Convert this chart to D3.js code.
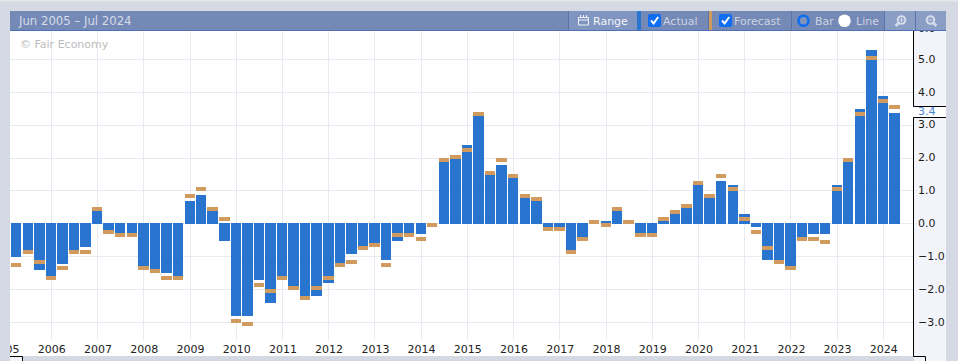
<!DOCTYPE html>
<html>
<head>
<meta charset="utf-8">
<script src="https://cdn.jsdelivr.net/npm/d3@7"></script>
<style>
body { margin: 0; background: #d5d9e3; overflow: hidden; }
svg { display: block; font-family: "DejaVu Sans", sans-serif; }
</style>
</head>
<body>
<script>
//data
var quarters = [
    "2005-04", "2005-07", "2005-10",
    "2006-01", "2006-04", "2006-07", "2006-10",
    "2007-01", "2007-04", "2007-07", "2007-10",
    "2008-01", "2008-04", "2008-07", "2008-10",
    "2009-01", "2009-04", "2009-07", "2009-10",
    "2010-01", "2010-04", "2010-07", "2010-10",
    "2011-01", "2011-04", "2011-07", "2011-10",
    "2012-01", "2012-04", "2012-07", "2012-10",
    "2013-01", "2013-04", "2013-07", "2013-10",
    "2014-01", "2014-04", "2014-07", "2014-10",
    "2015-01", "2015-04", "2015-07", "2015-10",
    "2016-01", "2016-04", "2016-07", "2016-10",
    "2017-01", "2017-04", "2017-07", "2017-10",
    "2018-01", "2018-04", "2018-07", "2018-10",
    "2019-01", "2019-04", "2019-07", "2019-10",
    "2020-01", "2020-04", "2020-07", "2020-10",
    "2021-01", "2021-04", "2021-07", "2021-10",
    "2022-01", "2022-04", "2022-07", "2022-10",
    "2023-01", "2023-04", "2023-07", "2023-10",
    "2024-01", "2024-04"
];
var actual = [
    -1.0, -0.8, -1.4,
    -1.6, -1.2, -0.8, -0.7,
    0.4, -0.2, -0.3, -0.4,
    -1.3, -1.5, -1.5, -1.6,
    0.7, 0.9, 0.4, -0.5,
    -2.8, -2.8, -1.7, -2.4,
    -1.6, -1.9, -2.2, -2.2,
    -1.8, -1.2, -0.9, -0.8,
    -0.6, -1.1, -0.5, -0.3,
    -0.3, -0.1, 1.9, 2.0,
    2.4, 3.3, 1.5, 1.8,
    1.4, 0.8, 0.7, -0.1,
    -0.1, -0.8, -0.4, 0.0,
    0.1, 0.4, 0.0, -0.3,
    -0.3, 0.1, 0.3, 0.5,
    1.2, 0.8, 1.3, 1.2,
    0.3, -0.1, -1.1, -1.1,
    -1.3, -0.4, -0.3, -0.3,
    1.2, 1.9, 3.5, 5.3,
    3.9, 3.4
];
var forecast = [
    -1.3, -0.9, -1.2,
    -1.7, -1.4, -0.9, -0.9,
    0.4, -0.3, -0.4, -0.4,
    -1.4, -1.5, -1.7, -1.7,
    0.8, 1.0, 0.4, 0.1,
    -3.0, -3.1, -1.9, -2.1,
    -1.7, -2.0, -2.3, -2.0,
    -1.7, -1.3, -1.2, -0.8,
    -0.7, -1.3, -0.4, -0.4,
    -0.5, -0.1, 1.9, 2.0,
    2.2, 3.3, 1.5, 1.9,
    1.4, 0.8, 0.7, -0.2,
    -0.2, -0.9, -0.5, 0.0,
    -0.1, 0.4, 0.0, -0.4,
    -0.4, 0.1, 0.3, 0.5,
    1.2, 0.8, 1.4, 1.0,
    0.1, -0.3, -0.8, -1.2,
    -1.4, -0.5, -0.5, -0.6,
    1.0, 1.9, 3.3, 5.0,
    3.7, 3.5
];
var yearTicks = [2005, 2006, 2007, 2008, 2009, 2010, 2011, 2012, 2013, 2014, 2015, 2016, 2017, 2018, 2019, 2020, 2021, 2022, 2023, 2024];
var valueTicks = [-3, -2, -1, 0, 1, 2, 3, 4, 5, 6];
var lastValue = 3.4;

var width = 958, height = 361;
var parseQuarter = d3.timeParse("%Y-%m");

var svg = d3.select("body").append("svg")
    .attr("width", width)
    .attr("height", height);

//scales
var xScale = d3.scaleTime()
    .domain([new Date(2006, 0, 1), new Date(2024, 0, 1)])
    .range([51.3, 883.3]);
var yScale = d3.scaleLinear()
    .domain([0, 5])
    .range([223.67, 59.5]);

//page and panels
svg.append("rect").attr("width", width).attr("height", 1.5).attr("fill", "#e6e7ea");
svg.append("rect").attr("x", 10).attr("y", 31).attr("width", 903).attr("height", 325).attr("fill", "#ffffff");
svg.append("rect").attr("x", 914).attr("y", 31).attr("width", 32).attr("height", 330).attr("fill", "#f3f4f9");
svg.append("rect").attr("x", 10).attr("y", 356).attr("width", 12).attr("height", 5).attr("fill", "#f3f4f9");

var defs = svg.append("defs");
defs.append("clipPath").attr("id", "plot").append("rect")
    .attr("x", 10).attr("y", 31).attr("width", 903).attr("height", 325);
defs.append("clipPath").attr("id", "side").append("rect")
    .attr("x", 914).attr("y", 31).attr("width", 32).attr("height", 325);

var plot = svg.append("g").attr("clip-path", "url(#plot)");

//grid
plot.append("g").selectAll("line")
    .data(yearTicks)
    .enter().append("line")
    .attr("x1", function (d) { return Math.floor(xScale(new Date(d, 0, 1))) + 0.5; })
    .attr("x2", function (d) { return Math.floor(xScale(new Date(d, 0, 1))) + 0.5; })
    .attr("y1", 31).attr("y2", 340)
    .attr("stroke", "#e8e9f1");
plot.append("g").selectAll("line")
    .data(valueTicks)
    .enter().append("line")
    .attr("x1", 10).attr("x2", 913)
    .attr("y1", function (d) { return Math.floor(yScale(d)) + 0.5; })
    .attr("y2", function (d) { return Math.floor(yScale(d)) + 0.5; })
    .attr("stroke", "#e8e9f1");

//watermark
plot.append("text").attr("x", 20).attr("y", 48)
    .attr("font-size", 11).attr("fill", "#bcbcbc")
    .text("© Fair Economy");

//bars
plot.append("g").selectAll("rect")
    .data(quarters)
    .enter().append("rect")
    .attr("x", function (d) { return Math.round(xScale(parseQuarter(d)) - 5.5); })
    .attr("width", function (d) {
        var c = xScale(parseQuarter(d));
        return Math.round(c + 5) - Math.round(c - 5.5);
    })
    .attr("y", function (d, i) { return actual[i] >= 0 ? Math.ceil(yScale(actual[i])) : Math.floor(yScale(0)); })
    .attr("height", function (d, i) {
        if (actual[i] == 0) return 0;
        return actual[i] > 0
            ? Math.ceil(yScale(0)) - Math.ceil(yScale(actual[i]))
            : Math.ceil(yScale(actual[i])) - Math.floor(yScale(0));
    })
    .attr("fill", "#2874ce");

//forecast markers
plot.append("g").selectAll("rect")
    .data(quarters)
    .enter().append("rect")
    .attr("x", function (d) { return Math.round(xScale(parseQuarter(d)) - 5.5); })
    .attr("width", function (d) {
        var c = xScale(parseQuarter(d));
        return Math.round(c + 5) - Math.round(c - 5.5);
    })
    .attr("y", function (d, i) { return Math.floor(yScale(forecast[i])) - 3; })
    .attr("height", 4)
    .attr("fill", "#d19a5e");

//x axis
var xAxis = d3.axisBottom(xScale)
    .tickValues(yearTicks.map(function (d) { return new Date(d, 0, 1); }))
    .tickFormat(d3.timeFormat("%Y"))
    .tickSize(0)
    .tickPadding(0);
var xG = plot.append("g").attr("transform", "translate(0,345)").call(xAxis);
xG.select(".domain").remove();
xG.selectAll("text").attr("font-size", 11).attr("font-family", "DejaVu Sans").attr("fill", "#222222").attr("dy", "0.71em");

//y axis
var yAxis = d3.axisRight(yScale)
    .tickValues(valueTicks)
    .tickFormat(d3.format(".1f"))
    .tickSize(0)
    .tickPadding(0);
var yG = svg.append("g").attr("clip-path", "url(#side)").append("g")
    .attr("transform", "translate(918,-0.7)")
    .call(yAxis);
yG.select(".domain").remove();
yG.selectAll("text").attr("font-size", 11).attr("font-family", "DejaVu Sans").attr("fill", "#1c1c1c")
    .attr("dy", function (d) { return d == 6 ? "0.5em" : "0.32em"; });

//last value flag
svg.append("rect").attr("x", 913).attr("y", yScale(lastValue) - 5.5).attr("width", 33).attr("height", 11).attr("fill", "#ffffff");
svg.append("text").attr("x", 918).attr("y", yScale(lastValue) - 0.7).attr("dy", "0.36em")
    .attr("font-size", 11).attr("fill", "#4a86d8")
    .text(lastValue.toFixed(1));

//black frame of the axis and the scrollbar box
var frame = svg.append("g").attr("fill", "none").attr("stroke", "#000000");
frame.append("path").attr("d", "M913.5,31V106.5H946");
frame.append("path").attr("d", "M946,117.5H913.5V356.5H925.5V361");
frame.append("path").attr("d", "M10,356.5H22.5V361");

//toolbar
var bar = svg.append("g").attr("font-size", 11);
bar.append("rect").attr("x", 10).attr("y", 11).attr("width", 936).attr("height", 19).attr("fill", "#7489b5");
bar.append("rect").attr("x", 10).attr("y", 30).attr("width", 936).attr("height", 1).attr("fill", "#4d71b2");
bar.append("rect").attr("x", 569).attr("y", 11).attr("width", 68).attr("height", 19).attr("fill", "#8096c0");
bar.append("rect").attr("x", 885).attr("y", 11).attr("width", 61).attr("height", 19).attr("fill", "#8a9dc4");
bar.append("rect").attr("x", 637).attr("y", 11).attr("width", 4).attr("height", 19).attr("fill", "#2874ce");
bar.append("rect").attr("x", 709).attr("y", 11).attr("width", 3).attr("height", 19).attr("fill", "#d19a5e");
[568, 708, 791, 884, 915].forEach(function (x) {
    bar.append("line").attr("x1", x + 0.5).attr("x2", x + 0.5).attr("y1", 11).attr("y2", 30).attr("stroke", "#5a73a8");
});

bar.append("text").attr("x", 19).attr("y", 25).attr("font-size", 11.7).attr("fill", "#d6dcea").text("Jun 2005 – Jul 2024");
bar.append("text").attr("x", 593).attr("y", 25).attr("fill", "#f2f4f9").text("Range");
bar.append("text").attr("x", 663).attr("y", 25).attr("fill", "#ccd4e4").text("Actual");
bar.append("text").attr("x", 734).attr("y", 25).attr("fill", "#ccd4e4").text("Forecast");
bar.append("text").attr("x", 815).attr("y", 25).attr("fill", "#ccd4e4").text("Bar");
bar.append("text").attr("x", 856).attr("y", 25).attr("fill", "#ccd4e4").text("Line");

//calendar icon
bar.append("path")
    .attr("d", "M578.5,17.5h10v7.5h-10zM578.5,20h10M580.5,15v2.5M583.5,15v2.5M586.5,15v2.5")
    .attr("fill", "none").attr("stroke", "#eef1f7").attr("stroke-width", 1);

//checkboxes
[648, 719].forEach(function (x) {
    bar.append("rect").attr("x", x).attr("y", 14).attr("width", 13).attr("height", 13).attr("rx", 2).attr("fill", "#0f6df2");
    bar.append("path").attr("d", "M" + (x + 3) + ",20.5l2.6,3l4.6,-6.5")
        .attr("fill", "none").attr("stroke", "#ffffff").attr("stroke-width", 2);
});

//radios
bar.append("circle").attr("cx", 803.5).attr("cy", 20.7).attr("r", 5).attr("fill", "#7f94bd").attr("stroke", "#0f6df2").attr("stroke-width", 2.6);
bar.append("circle").attr("cx", 844.5).attr("cy", 20.7).attr("r", 6.3).attr("fill", "#ffffff");

//zoom icons
var icon = bar.append("g").attr("fill", "none").attr("stroke", "#d5dcec");
icon.append("circle").attr("cx", 901.5).attr("cy", 20).attr("r", 3.8).attr("stroke-width", 2);
icon.append("path").attr("d", "M898.6,23l-3,3").attr("stroke-width", 2.6);
icon.append("path").attr("d", "M899.5,20h4M901.5,18v4").attr("stroke-width", 1);
icon.append("circle").attr("cx", 930.5).attr("cy", 20).attr("r", 3.8).attr("stroke-width", 2);
icon.append("path").attr("d", "M933.4,23l3,3").attr("stroke-width", 2.6);
icon.append("path").attr("d", "M928.5,20h4").attr("stroke-width", 1);
</script>
</body>
</html>
